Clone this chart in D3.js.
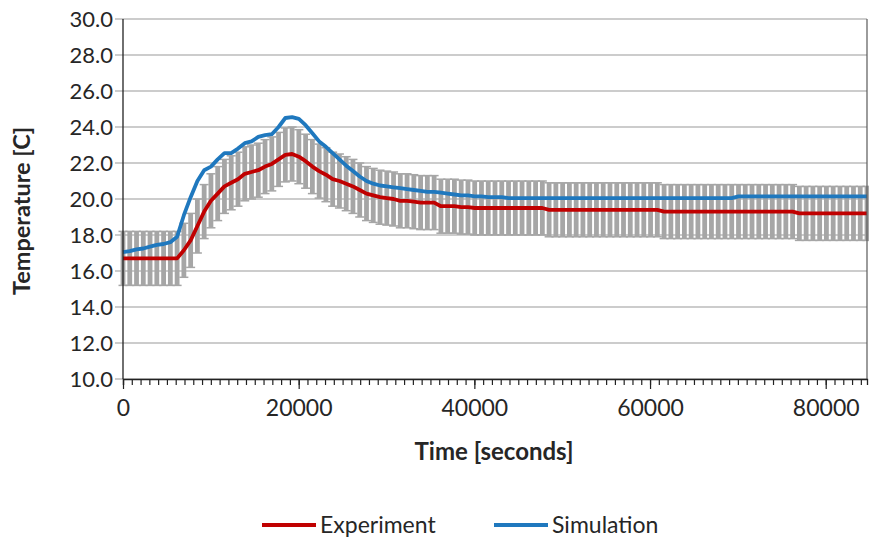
<!DOCTYPE html>
<html>
<head>
<meta charset="utf-8">
<script src="https://cdn.jsdelivr.net/npm/d3@7"></script>
<style>
  body { margin: 0; background: #fff; }
  text { font-family: Lato, "Open Sans", "Noto Sans", sans-serif; fill: #262626; }
</style>
</head>
<body>
<svg id="chart" width="869" height="546"></svg>
<script>
// Logged sample times (s)
const timeSeconds = [0,770,1540,2310,3080,3850,4620,5390,6160,6930,7700,8470,9240,10010,10780,11550,12320,13090,13860,14630,15400,16170,16940,17710,18480,19250,20020,20790,21560,22330,23100,23870,24640,25410,26180,26950,27720,28490,29260,30030,30800,31570,32340,33110,33880,34650,35420,36190,36960,37730,38500,39270,40040,40810,41580,42350,43120,43890,44660,45430,46200,46970,47740,48510,49280,50050,50820,51590,52360,53130,53900,54670,55440,56210,56980,57750,58520,59290,60060,60830,61600,62370,63140,63910,64680,65450,66220,66990,67760,68530,69300,70070,70840,71610,72380,73150,73920,74690,75460,76230,77000,77770,78540,79310,80080,80850,81620,82390,83160,83930,84700];

// Measured temperature (C)
const experiment = [16.7,16.7,16.7,16.7,16.7,16.7,16.7,16.7,16.7,17.15,17.7,18.5,19.3,19.9,20.3,20.7,20.9,21.1,21.4,21.5,21.6,21.8,21.95,22.2,22.45,22.5,22.35,22.1,21.8,21.55,21.35,21.1,21.0,20.85,20.7,20.5,20.3,20.2,20.1,20.05,20.0,19.9,19.9,19.85,19.8,19.8,19.8,19.6,19.6,19.6,19.55,19.55,19.5,19.5,19.5,19.5,19.5,19.5,19.5,19.5,19.5,19.5,19.5,19.4,19.4,19.4,19.4,19.4,19.4,19.4,19.4,19.4,19.4,19.4,19.4,19.4,19.4,19.4,19.4,19.4,19.3,19.3,19.3,19.3,19.3,19.3,19.3,19.3,19.3,19.3,19.3,19.3,19.3,19.3,19.3,19.3,19.3,19.3,19.3,19.3,19.2,19.2,19.2,19.2,19.2,19.2,19.2,19.2,19.2,19.2,19.2];

// Simulated temperature (C)
const simulation = [17.05,17.1,17.2,17.25,17.35,17.45,17.5,17.6,17.9,19.1,20.1,21.0,21.6,21.8,22.2,22.55,22.55,22.8,23.1,23.2,23.45,23.55,23.6,24.0,24.5,24.55,24.45,24.1,23.65,23.2,22.9,22.55,22.2,21.85,21.55,21.25,21.0,20.85,20.75,20.7,20.65,20.6,20.55,20.5,20.45,20.4,20.4,20.35,20.3,20.25,20.2,20.2,20.15,20.15,20.1,20.1,20.1,20.05,20.05,20.05,20.05,20.05,20.05,20.05,20.05,20.05,20.05,20.05,20.05,20.05,20.05,20.05,20.05,20.05,20.05,20.05,20.05,20.05,20.05,20.05,20.05,20.05,20.05,20.05,20.05,20.05,20.05,20.05,20.05,20.05,20.05,20.15,20.15,20.15,20.15,20.15,20.15,20.15,20.15,20.15,20.15,20.15,20.15,20.15,20.15,20.15,20.15,20.15,20.15,20.15,20.15];

// Sensor uncertainty (+/- C) shown as error bars on the measurement
const experimentError = 1.5;

const yTicks = [10, 12, 14, 16, 18, 20, 22, 24, 26, 28, 30];
const xTicks = [0, 20000, 40000, 60000, 80000];
const seriesNames = ["Experiment", "Simulation"];
const seriesColors = ["#c00000", "#1f78be"];

const svg = d3.select("#chart");
const plot = { left: 123, right: 867, top: 19, bottom: 379 };

const x = d3.scaleLinear().domain([0, 84700]).range([plot.left, plot.right]);
const y = d3.scaleLinear().domain([10, 30]).range([plot.bottom, plot.top]);

// Horizontal gridlines (extend left as the major tick marks)
svg.append("g")
  .selectAll("line")
  .data(yTicks)
  .join("line")
  .attr("x1", plot.left - 8)
  .attr("x2", plot.right)
  .attr("y1", d => y(d))
  .attr("y2", d => y(d))
  .attr("stroke", "#9a9a9a")
  .attr("stroke-width", 1.2);

// Y tick labels
svg.append("g")
  .selectAll("text")
  .data(yTicks)
  .join("text")
  .attr("x", plot.left - 10)
  .attr("y", d => y(d))
  .attr("dy", "0.35em")
  .attr("text-anchor", "end")
  .attr("font-size", 22)
  .text(d => d.toFixed(1));

// Error bars around the measured series
const errG = svg.append("g").attr("stroke", "#a6a6a6");
const pts = timeSeconds.map((t, i) => ({ t, v: experiment[i] }));
errG.selectAll("line.bar")
  .data(pts)
  .join("line")
  .attr("class", "bar")
  .attr("x1", d => x(d.t))
  .attr("x2", d => x(d.t))
  .attr("y1", d => y(d.v - experimentError))
  .attr("y2", d => y(d.v + experimentError))
  .attr("stroke-width", 4.8);
["lo", "hi"].forEach(side => {
  errG.selectAll("line.cap-" + side)
    .data(pts)
    .join("line")
    .attr("class", "cap-" + side)
    .attr("x1", d => x(d.t) - 4.5)
    .attr("x2", d => x(d.t) + 4.5)
    .attr("y1", d => y(side === "lo" ? d.v - experimentError : d.v + experimentError))
    .attr("y2", d => y(side === "lo" ? d.v - experimentError : d.v + experimentError))
    .attr("stroke-width", 1.5);
});

// Series lines
const line = d3.line()
  .x(d => x(d[0]))
  .y(d => y(d[1]));

[experiment, simulation].forEach((vals, k) => {
  svg.append("path")
    .datum(timeSeconds.map((t, i) => [t, vals[i]]))
    .attr("fill", "none")
    .attr("stroke", seriesColors[k])
    .attr("stroke-width", 3.8)
    .attr("stroke-linejoin", "round")
    .attr("d", line);
});

// Right border of plot area
svg.append("line")
  .attr("x1", plot.right).attr("x2", plot.right)
  .attr("y1", plot.top).attr("y2", plot.bottom)
  .attr("stroke", "#595959").attr("stroke-width", 1.2);

// Y axis line
svg.append("line")
  .attr("x1", plot.left).attr("x2", plot.left)
  .attr("y1", plot.top).attr("y2", plot.bottom)
  .attr("stroke", "#222").attr("stroke-width", 1.3);

// X axis: minor ticks every 1000 s, major every 20000 s
const minorTicks = d3.range(0, 84701, 1000);
const xAxisMinor = d3.axisBottom(x).tickValues(minorTicks).tickSize(6).tickFormat("");
const gx = svg.append("g")
  .attr("transform", `translate(0,${plot.bottom})`)
  .call(xAxisMinor);
gx.select(".domain").attr("stroke", "#222").attr("stroke-width", 1.3);
gx.selectAll(".tick line").attr("stroke", "#222").attr("stroke-width", 1.2);

const xAxisMajor = d3.axisBottom(x).tickValues(xTicks).tickSize(10).tickPadding(11).tickFormat(d3.format("d"));
const gxm = svg.append("g")
  .attr("transform", `translate(0,${plot.bottom})`)
  .call(xAxisMajor);
gxm.select(".domain").remove();
gxm.selectAll(".tick line").attr("stroke", "#222").attr("stroke-width", 1.2);
gxm.selectAll(".tick text")
  .attr("font-size", 23)
  .attr("font-family", "Lato, 'Open Sans', sans-serif")
  .attr("fill", "#262626");

// Axis titles
svg.append("text")
  .attr("x", 494)
  .attr("y", 460)
  .attr("text-anchor", "middle")
  .attr("font-size", 24)
  .attr("font-weight", "bold")
  .attr("fill", "#111")
  .text("Time [seconds]");

svg.append("text")
  .attr("transform", "translate(30,211) rotate(-90)")
  .attr("text-anchor", "middle")
  .attr("font-size", 23.5)
  .attr("font-weight", "bold")
  .attr("fill", "#111")
  .text("Temperature [C]");

// Legend
const legend = svg.append("g");
const legendX = [262, 494];
seriesNames.forEach((name, k) => {
  legend.append("line")
    .attr("x1", legendX[k]).attr("x2", legendX[k] + 54)
    .attr("y1", 525).attr("y2", 525)
    .attr("stroke", seriesColors[k]).attr("stroke-width", 4);
  legend.append("text")
    .attr("x", legendX[k] + 58)
    .attr("y", 525)
    .attr("dy", "0.35em")
    .attr("font-size", 23)
    .text(name);
});
</script>
</body>
</html>
